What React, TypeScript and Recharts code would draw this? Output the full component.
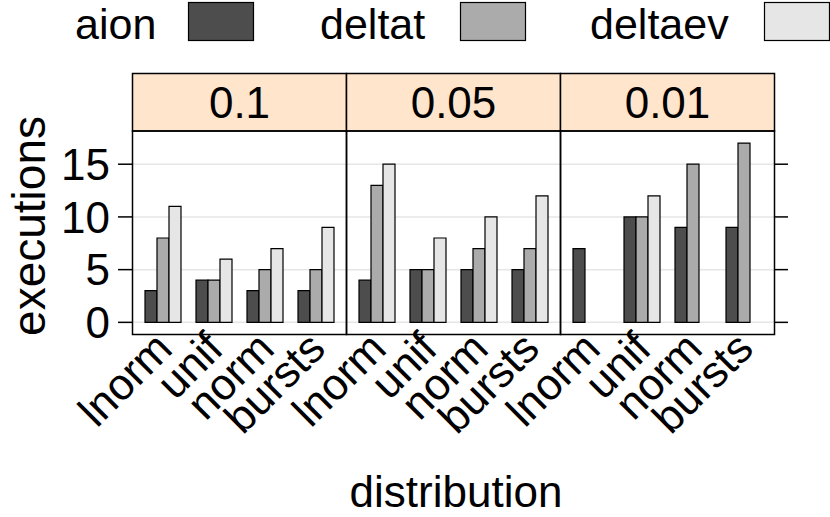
import React from 'react';
import { BarChart, Bar, XAxis, YAxis, CartesianGrid } from 'recharts';

const distributions = ['lnorm', 'unif', 'norm', 'bursts'];
const thresholds = ['0.1', '0.05', '0.01'];
const aion = [
  [3, 4, 3, 3],
  [4, 5, 5, 5],
  [7, 10, 9, 9],
];
const deltat = [
  [8, 4, 5, 5],
  [13, 5, 7, 7],
  [null, 10, 15, 17],
];
const deltaev = [
  [11, 6, 7, 9],
  [15, 8, 10, 12],
  [null, 12, null, null],
];
const yTicks = [0, 5, 10, 15];
const seriesNames = ['aion', 'deltat', 'deltaev'];
const seriesColors = ['#4d4d4d', '#ababab', '#e6e6e6'];

const FONT = '"Liberation Sans", Arial, Helvetica, sans-serif';
const PANEL_TOP = 131;
const PANEL_H = 204;
const PANEL_W = 214;
const PANEL_X = [132, 346, 560];
const LABEL_PAD = 70;
const X_AXIS_H = 120;

const panelData = (p: number) =>
  distributions.map((d, i) => ({
    dist: d,
    aion: aion[p][i],
    deltat: deltat[p][i],
    deltaev: deltaev[p][i],
  }));

// rotated category labels, hanging below the panel
function RotTick(props: any) {
  const { x, y, payload } = props;
  const ax = x + 12;
  const ay = y + 16;
  return (
    <text
      x={ax}
      y={ay}
      textAnchor="end"
      fontSize={44}
      fontFamily={FONT}
      fill="#000"
      transform={`rotate(-45 ${ax} ${ay})`}
    >
      {payload.value}
    </text>
  );
}

function Panel({ p }: { p: number }) {
  const first = p === 0;
  const last = p === thresholds.length - 1;
  const leftW = first ? PANEL_X[0] : LABEL_PAD;
  const rightW = last ? 20 : 0;
  const width = leftW + PANEL_W + rightW;
  return (
    <div style={{ position: 'absolute', left: PANEL_X[p] - leftW, top: PANEL_TOP }}>
      <BarChart
        width={width}
        height={PANEL_H + X_AXIS_H}
        data={panelData(p)}
        margin={{ top: 0, right: 0, bottom: 0, left: first ? 0 : LABEL_PAD }}
        barCategoryGap={8}
        barGap={0}
      >
        <CartesianGrid vertical={false} horizontalValues={yTicks} stroke="#e6e6e6" strokeWidth={1.5} />
        <XAxis
          dataKey="dist"
          height={X_AXIS_H}
          padding={{ left: 5, right: 5 }}
          axisLine={false}
          tickLine={false}
          tickSize={0}
          tickMargin={0}
          interval={0}
          tick={<RotTick />}
        />
        {first ? (
          <YAxis
            type="number"
            domain={[-1.2, 18.15]}
            ticks={yTicks}
            interval={0}
            allowDataOverflow
            width={PANEL_X[0]}
            axisLine={false}
            tickSize={14}
            tickMargin={8}
            tickLine={{ stroke: '#000', strokeWidth: 1.5 }}
            tick={{ fontSize: 44, fontFamily: FONT, fill: '#000' }}
          />
        ) : last ? (
          <YAxis
            type="number"
            orientation="right"
            domain={[-1.2, 18.15]}
            ticks={yTicks}
            interval={0}
            allowDataOverflow
            width={20}
            axisLine={false}
            tickSize={14}
            tickLine={{ stroke: '#000', strokeWidth: 1.5 }}
            tick={() => <g />}
          />
        ) : (
          <YAxis type="number" domain={[-1.2, 18.15]} ticks={yTicks} allowDataOverflow hide />
        )}
        {seriesNames.map((s, i) => (
          <Bar
            key={s}
            dataKey={s}
            fill={seriesColors[i]}
            stroke="#000"
            strokeWidth={1.2}
            isAnimationActive={false}
          />
        ))}
      </BarChart>
    </div>
  );
}

const legendText = [75, 320, 590];
const legendBoxes = [188, 460, 764];

export default function App() {
  return (
    <div
      style={{
        position: 'absolute',
        left: 0,
        top: 0,
        width: 830,
        height: 517,
        background: '#fff',
        fontFamily: FONT,
      }}
    >
      {thresholds.map((t, p) => (
        <Panel key={t} p={p} />
      ))}
      <svg
        width={830}
        height={517}
        style={{ position: 'absolute', left: 0, top: 0, pointerEvents: 'none' }}
      >
        {/* legend */}
        {seriesNames.map((s, i) => (
          <g key={s}>
            <text x={legendText[i]} y={39} fontSize={43} fontFamily={FONT}>
              {s}
            </text>
            <rect
              x={legendBoxes[i] + 0.5}
              y={2.5}
              width={65}
              height={38}
              fill={seriesColors[i]}
              stroke="#000"
              strokeWidth={1.2}
            />
          </g>
        ))}
        {/* strips and panel frames */}
        {thresholds.map((t, p) => (
          <g key={t}>
            <rect
              x={PANEL_X[p] + 0.5}
              y={73.5}
              width={PANEL_W}
              height={PANEL_TOP - 73.5}
              fill="#ffe5cc"
              stroke="#000"
              strokeWidth={1.5}
            />
            <text
              x={PANEL_X[p] + PANEL_W / 2 + 0.5}
              y={118}
              textAnchor="middle"
              fontSize={44}
              fontFamily={FONT}
            >
              {t}
            </text>
            <rect
              x={PANEL_X[p] + 0.5}
              y={PANEL_TOP}
              width={PANEL_W}
              height={PANEL_H - 0.5}
              fill="none"
              stroke="#000"
              strokeWidth={1.5}
            />
          </g>
        ))}
        <text
          x={45}
          y={226}
          textAnchor="middle"
          fontSize={46}
          fontFamily={FONT}
          transform="rotate(-90 45 226)"
        >
          executions
        </text>
        <text x={456} y={507} textAnchor="middle" fontSize={44} fontFamily={FONT}>
          distribution
        </text>
      </svg>
    </div>
  );
}
